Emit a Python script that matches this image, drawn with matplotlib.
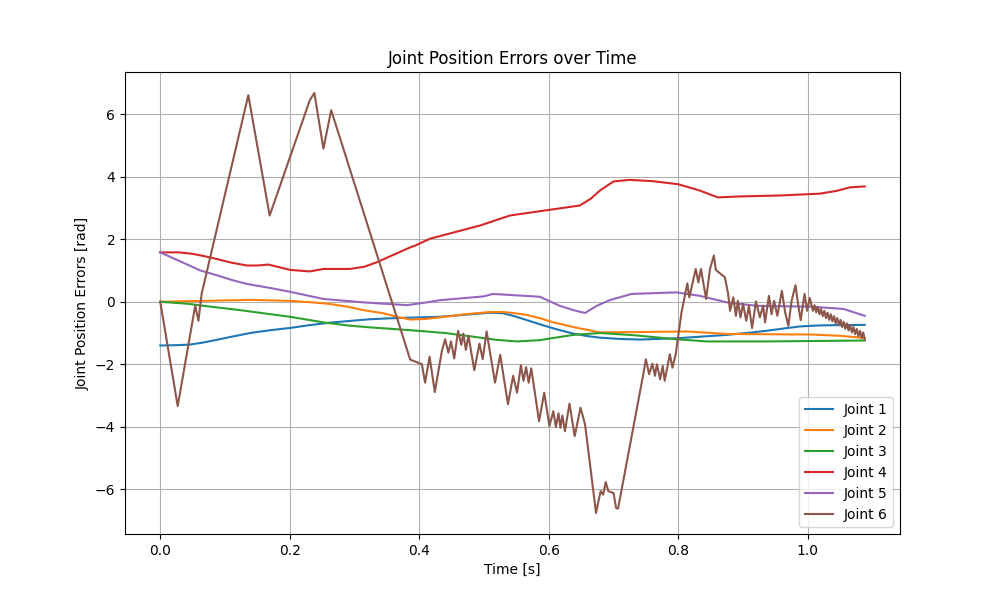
import matplotlib
matplotlib.use("Agg")
import matplotlib.pyplot as plt

# Joint 1
t1 = [0.0, 0.025, 0.046, 0.065, 0.087, 0.11, 0.139, 0.17, 0.2, 0.23, 0.262, 0.295, 0.324, 0.355, 0.386, 0.432, 0.48, 0.509, 0.53, 0.545, 0.565, 0.586, 0.61, 0.638, 0.66, 0.679, 0.71, 0.741, 0.797, 0.84, 0.875, 0.91, 0.936, 0.965, 0.988, 1.015, 1.039, 1.088]
j1 = [-1.40, -1.39, -1.37, -1.31, -1.22, -1.12, -1.00, -0.91, -0.84, -0.75, -0.67, -0.61, -0.56, -0.53, -0.51, -0.48, -0.40, -0.35, -0.37, -0.45, -0.58, -0.72, -0.87, -1.02, -1.10, -1.15, -1.19, -1.21, -1.17, -1.11, -1.06, -0.99, -0.93, -0.85, -0.79, -0.76, -0.75, -0.74]

# Joint 2
t2 = [0.0, 0.07, 0.139, 0.2, 0.235, 0.262, 0.29, 0.314, 0.345, 0.365, 0.386, 0.41, 0.432, 0.47, 0.509, 0.53, 0.545, 0.566, 0.587, 0.607, 0.645, 0.679, 0.741, 0.813, 0.875, 0.94, 1.008, 1.05, 1.088]
j2 = [0.0, 0.03, 0.06, 0.03, -0.02, -0.07, -0.16, -0.27, -0.37, -0.48, -0.57, -0.55, -0.50, -0.40, -0.33, -0.33, -0.36, -0.42, -0.53, -0.66, -0.84, -0.98, -0.97, -0.95, -1.03, -1.04, -1.05, -1.09, -1.16]

# Joint 3
t3 = [0.0, 0.04, 0.087, 0.12, 0.16, 0.2, 0.252, 0.29, 0.324, 0.386, 0.44, 0.484, 0.52, 0.551, 0.586, 0.61, 0.638, 0.679, 0.731, 0.797, 0.844, 0.936, 1.088]
j3 = [0.0, -0.06, -0.18, -0.26, -0.37, -0.48, -0.66, -0.76, -0.82, -0.91, -1.0, -1.12, -1.22, -1.27, -1.23, -1.15, -1.06, -1.0, -1.07, -1.20, -1.27, -1.27, -1.24]

# Joint 4
t4 = [0.0, 0.03, 0.051, 0.07, 0.087, 0.11, 0.134, 0.15, 0.167, 0.185, 0.2, 0.231, 0.252, 0.293, 0.315, 0.334, 0.36, 0.386, 0.394, 0.417, 0.45, 0.494, 0.54, 0.594, 0.648, 0.665, 0.679, 0.70, 0.725, 0.76, 0.80, 0.833, 0.861, 0.895, 0.957, 1.019, 1.045, 1.065, 1.088]
j4 = [1.58, 1.58, 1.53, 1.45, 1.37, 1.25, 1.16, 1.16, 1.19, 1.10, 1.02, 0.97, 1.05, 1.05, 1.12, 1.26, 1.50, 1.74, 1.80, 2.02, 2.20, 2.44, 2.76, 2.92, 3.08, 3.30, 3.56, 3.85, 3.90, 3.86, 3.76, 3.56, 3.34, 3.37, 3.40, 3.46, 3.55, 3.66, 3.69]

# Joint 5
t5 = [0.0, 0.03, 0.062, 0.087, 0.11, 0.134, 0.17, 0.2, 0.252, 0.314, 0.381, 0.412, 0.432, 0.499, 0.514, 0.586, 0.617, 0.64, 0.656, 0.674, 0.694, 0.728, 0.797, 0.833, 0.875, 0.921, 1.008, 1.055, 1.088]
j5 = [1.58, 1.30, 1.0, 0.85, 0.70, 0.57, 0.44, 0.32, 0.09, -0.02, -0.11, -0.02, 0.05, 0.17, 0.25, 0.16, -0.13, -0.28, -0.36, -0.13, 0.05, 0.25, 0.30, 0.19, -0.02, -0.13, -0.16, -0.23, -0.45]

# Joint 6
t6 = [0.0, 0.027, 0.054, 0.059, 0.064, 0.136, 0.169, 0.231, 0.238, 0.252, 0.264, 0.386,
      0.404, 0.409, 0.416, 0.424, 0.435, 0.44, 0.445, 0.449, 0.454, 0.46, 0.465, 0.468, 0.472, 0.476,
      0.485, 0.493, 0.498, 0.504, 0.517, 0.525, 0.537, 0.545, 0.551, 0.557, 0.561, 0.565, 0.569, 0.573,
      0.585, 0.593, 0.601, 0.607, 0.611, 0.615, 0.618, 0.621, 0.625, 0.632, 0.640, 0.649, 0.656,
      0.673, 0.680, 0.684, 0.688, 0.692, 0.700, 0.704, 0.707, 0.715, 0.746,
      0.750, 0.755, 0.760, 0.764, 0.767, 0.772, 0.776, 0.779, 0.787, 0.791, 0.796, 0.805,
      0.814, 0.817, 0.827, 0.831, 0.835, 0.843, 0.849, 0.855, 0.858, 0.872, 0.877, 0.880,
      0.885, 0.889, 0.892, 0.896, 0.900, 0.905, 0.909, 0.914, 0.920, 0.926, 0.931, 0.934,
      0.940, 0.944, 0.948, 0.953, 0.960, 0.965, 0.970, 0.975, 0.981, 0.985, 0.989, 0.995,
      0.999, 1.003,
      1.008, 1.0105, 1.013, 1.0155, 1.018, 1.0205, 1.023, 1.0255, 1.028, 1.0305, 1.033,
      1.0355, 1.038, 1.0405, 1.043, 1.0455, 1.048, 1.0505, 1.053, 1.0555, 1.058, 1.0605,
      1.063, 1.0655, 1.068, 1.0705, 1.073, 1.0755, 1.078, 1.0805, 1.083, 1.0855, 1.088]
j6 = [0.0, -3.34, -0.13, -0.61, 0.26, 6.61, 2.76, 6.45, 6.68, 4.90, 6.13, -1.85,
      -2.0, -2.59, -1.76, -2.89, -1.57, -1.20, -1.63, -1.27, -1.81, -0.93, -1.38, -1.02, -1.54, -1.09,
      -2.19, -1.34, -1.84, -0.95, -2.59, -1.70, -3.28, -2.37, -2.91, -2.03, -2.53, -2.09, -2.59, -2.13,
      -3.82, -2.91, -3.98, -3.50, -4.01, -3.57, -4.03, -3.64, -4.14, -3.26, -4.30, -3.39, -3.92,
      -6.76, -6.06, -6.17, -5.77, -6.06, -6.12, -6.60, -6.62, -5.74, -2.32,
      -1.84, -2.32, -1.98, -2.37, -2.0, -2.48, -2.05, -2.53, -1.68, -2.11, -1.68, -0.34,
      0.59, 0.14, 1.05, 0.62, 1.05, 0.09, 1.05, 1.48, 1.02, 0.78, 0.25, -0.29,
      0.14, -0.45, 0.03, -0.50, -0.07, -0.61, -0.13, -0.84, 0.01, -0.50, -0.13, -0.66,
      0.19, -0.40, 0.03, -0.45, 0.35, -0.34, -0.77, 0.03, 0.53, -0.07, -0.59, 0.25,
      -0.29, 0.12,
      -0.29, -0.11, -0.34, -0.17, -0.40, -0.23, -0.46, -0.29, -0.52, -0.35, -0.58,
      -0.40, -0.63, -0.46, -0.69, -0.52, -0.75, -0.58, -0.81, -0.64, -0.87, -0.69,
      -0.92, -0.75, -0.98, -0.81, -1.04, -0.87, -1.10, -0.93, -1.16, -0.98, -1.21]

series = [(t1, j1), (t2, j2), (t3, j3), (t4, j4), (t5, j5), (t6, j6)]
labels = ["Joint 1", "Joint 2", "Joint 3", "Joint 4", "Joint 5", "Joint 6"]

fig, ax = plt.subplots(figsize=(10, 6), dpi=100)
for (t, j), lab in zip(series, labels):
    ax.plot(t, j, label=lab, linewidth=1.5)
ax.set_title("Joint Position Errors over Time")
ax.set_xlabel("Time [s]")
ax.set_ylabel("Joint Position Errors [rad]")
ax.grid(True)
ax.legend(loc="lower right")
fig.savefig("out.png", dpi=100)
